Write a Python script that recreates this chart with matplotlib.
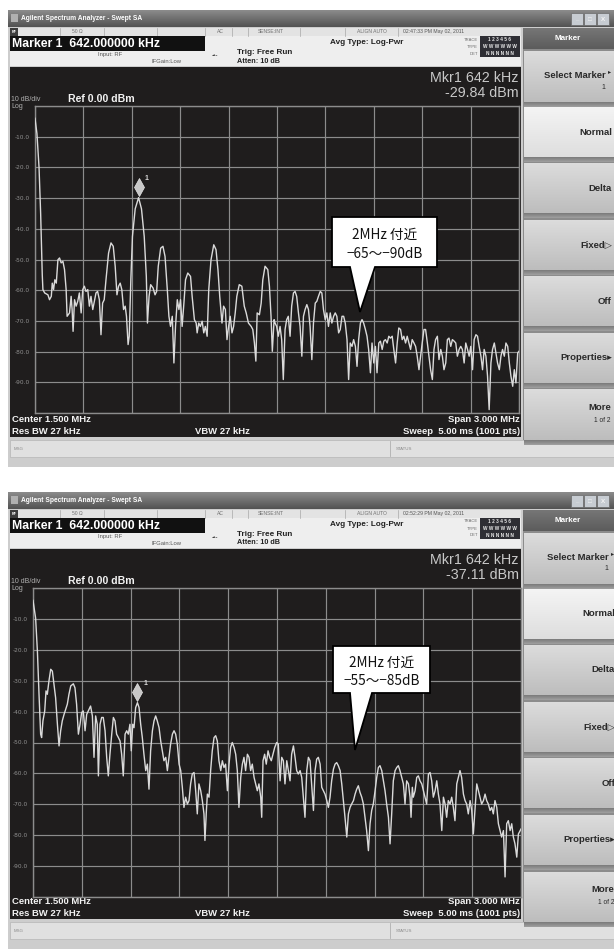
import numpy as np
import matplotlib
matplotlib.use("Agg")
import matplotlib.pyplot as plt
from matplotlib.patches import Rectangle, Polygon
from matplotlib import transforms, colors

W, H, DPI = 614, 949, 100

# ---------------- measurement settings ----------------
center_mhz = 1.5
span_mhz = 3.0
ref_dbm = 0.0
db_per_div = 10
rbw_khz = 27
vbw_khz = 27
sweep_ms = 5.00
sweep_pts = 1001
atten_db = 10
marker_khz = 642.0
marker_levels = [-29.84, -37.11]
timestamps = ["02:47:33 PM May 02, 2011", "02:52:29 PM May 02, 2011"]
y_tick_labels = ["-10.0", "-20.0", "-30.0", "-40.0", "-50.0",
                 "-60.0", "-70.0", "-80.0", "-90.0"]
callout_lines = [["2MHz 付近", "−65〜−90dB"], ["2MHz 付近", "−55〜−85dB"]]
softkeys = ["Normal", "Delta", "Fixed\u25b7", "Off", "Properties\u25b8"]

# ---------------- traces: (MHz, dBm) ----------------
top_trace = [
    (0.000, -4.0), (0.012, -9.0), (0.025, -20.0), (0.035, -35.0), (0.045, -55.0),
    (0.049, -59.8), (0.060, -60.9), (0.080, -61.5), (0.090, -63.1), (0.101, -62.0),
    (0.107, -57.7), (0.115, -59.8), (0.123, -56.6), (0.132, -57.7), (0.142, -50.1),
    (0.152, -49.5), (0.162, -51.1), (0.173, -50.6), (0.183, -53.3), (0.193, -59.8),
    (0.199, -68.5), (0.214, -67.4), (0.224, -62.0), (0.230, -66.3), (0.236, -73.4),
    (0.245, -63.1), (0.255, -65.2), (0.265, -63.6), (0.275, -60.9), (0.286, -67.4),
    (0.296, -59.8), (0.306, -58.7), (0.316, -60.4), (0.327, -59.8), (0.337, -65.2),
    (0.347, -62.0), (0.358, -66.3), (0.368, -63.6), (0.378, -60.9), (0.388, -60.4),
    (0.399, -63.1), (0.409, -74.5), (0.419, -64.2), (0.429, -63.1), (0.440, -56.6),
    (0.456, -47.9), (0.471, -44.6), (0.485, -45.7), (0.497, -52.2), (0.508, -61.5),
    (0.518, -58.7), (0.528, -57.7), (0.538, -59.8), (0.549, -66.3), (0.559, -65.2),
    (0.567, -68.5), (0.577, -77.7), (0.584, -75.0), (0.594, -56.6), (0.604, -42.5),
    (0.621, -33.5), (0.642, -29.84), (0.660, -33.5), (0.677, -42.5), (0.690, -55.5),
    (0.697, -70.7), (0.707, -62.0), (0.717, -58.2), (0.732, -59.3), (0.744, -61.5),
    (0.754, -60.4), (0.764, -52.2), (0.779, -46.3), (0.793, -45.7), (0.806, -49.0),
    (0.820, -59.8), (0.830, -68.5), (0.840, -71.8), (0.851, -68.5), (0.861, -83.7),
    (0.871, -71.8), (0.882, -63.1), (0.892, -66.3), (0.902, -63.1), (0.912, -71.8),
    (0.923, -64.2), (0.933, -56.6), (0.947, -54.4), (0.964, -55.5), (0.974, -62.0),
    (0.988, -69.6), (0.999, -70.7), (1.005, -73.9), (1.015, -70.7), (1.025, -71.8),
    (1.036, -70.1), (1.046, -73.9), (1.056, -71.8), (1.067, -75.0), (1.077, -59.8),
    (1.091, -50.1), (1.108, -45.2), (1.122, -46.8), (1.134, -53.3), (1.145, -62.0),
    (1.159, -70.7), (1.169, -65.2), (1.180, -66.3), (1.190, -76.1), (1.200, -71.8),
    (1.210, -68.5), (1.221, -73.9), (1.231, -71.8), (1.241, -67.4), (1.251, -62.0),
    (1.266, -58.2), (1.282, -58.7), (1.297, -65.2), (1.309, -67.4), (1.323, -70.7),
    (1.340, -71.8), (1.350, -72.8), (1.360, -77.2), (1.369, -83.1), (1.377, -67.4),
    (1.391, -68.0), (1.402, -64.2), (1.412, -56.6), (1.426, -52.2), (1.443, -53.3),
    (1.453, -58.7), (1.463, -68.5), (1.471, -79.9), (1.482, -69.6), (1.488, -70.7),
    (1.498, -71.8), (1.508, -75.0), (1.519, -71.8), (1.529, -76.1), (1.539, -89.1),
    (1.550, -72.8), (1.560, -69.6), (1.570, -68.5), (1.581, -75.0), (1.591, -65.2),
    (1.602, -60.9), (1.612, -60.4), (1.622, -62.0), (1.633, -67.4), (1.643, -71.8),
    (1.654, -81.5), (1.664, -68.5), (1.674, -66.3), (1.685, -64.7), (1.695, -66.3),
    (1.705, -71.8), (1.716, -82.6), (1.726, -70.7), (1.737, -64.2), (1.747, -63.6),
    (1.757, -62.0), (1.768, -60.4), (1.778, -60.9), (1.788, -66.3), (1.799, -69.6),
    (1.809, -67.4), (1.819, -71.8), (1.830, -67.4), (1.840, -70.7), (1.851, -68.5),
    (1.861, -67.4), (1.871, -68.5), (1.882, -73.9), (1.892, -72.8), (1.903, -68.5),
    (1.913, -68.5), (1.923, -70.7), (1.934, -76.1), (1.944, -89.1), (1.954, -77.2),
    (1.965, -78.3), (1.975, -76.1), (1.986, -78.3), (1.996, -84.8), (2.006, -76.1),
    (2.017, -70.7), (2.027, -69.6), (2.037, -70.7), (2.048, -72.8), (2.058, -75.0),
    (2.068, -79.3), (2.079, -86.9), (2.089, -77.2), (2.100, -83.7), (2.110, -78.3),
    (2.120, -86.9), (2.131, -77.2), (2.141, -76.6), (2.152, -79.3), (2.162, -76.6),
    (2.172, -76.1), (2.183, -77.2), (2.193, -75.0), (2.203, -75.6), (2.214, -75.0),
    (2.224, -79.3), (2.235, -83.7), (2.245, -77.2), (2.255, -72.3), (2.266, -72.8),
    (2.276, -76.1), (2.286, -75.0), (2.297, -77.2), (2.307, -75.0), (2.318, -77.2),
    (2.328, -79.3), (2.338, -76.1), (2.349, -77.2), (2.359, -78.3), (2.369, -81.5),
    (2.380, -85.9), (2.390, -81.5), (2.400, -77.2), (2.411, -72.8), (2.421, -72.8),
    (2.432, -77.2), (2.442, -81.5), (2.452, -85.9), (2.463, -89.1), (2.473, -79.3),
    (2.483, -76.1), (2.494, -75.0), (2.504, -82.6), (2.515, -79.3), (2.525, -81.5),
    (2.535, -85.9), (2.546, -83.7), (2.556, -76.1), (2.566, -75.6), (2.577, -78.3),
    (2.587, -76.1), (2.598, -76.6), (2.608, -77.2), (2.618, -81.5), (2.629, -79.3),
    (2.639, -78.3), (2.649, -79.3), (2.660, -83.7), (2.670, -77.2), (2.681, -79.3),
    (2.691, -81.5), (2.701, -78.3), (2.712, -85.9), (2.722, -76.1), (2.733, -74.5),
    (2.743, -75.0), (2.753, -78.3), (2.764, -81.5), (2.774, -85.9), (2.784, -79.3),
    (2.795, -81.5), (2.805, -88.0), (2.815, -98.9), (2.826, -83.7), (2.836, -79.3),
    (2.847, -77.2), (2.857, -80.4), (2.867, -83.7), (2.878, -85.9), (2.888, -81.5),
    (2.898, -79.3), (2.909, -81.5), (2.919, -77.2), (2.930, -78.3), (2.940, -83.7),
    (2.950, -88.0), (2.961, -91.3), (2.971, -85.9), (2.981, -90.2), (2.992, -80.4),
    (3.000, -79.9),
]

bottom_trace = [
    (0.000, -4.0), (0.016, -9.7), (0.027, -20.4), (0.037, -34.4), (0.047, -47.3),
    (0.053, -48.4), (0.061, -43.0), (0.072, -39.8), (0.080, -33.3), (0.088, -34.4),
    (0.098, -30.1), (0.109, -26.3), (0.119, -26.9), (0.129, -31.2), (0.139, -35.5),
    (0.150, -44.1), (0.160, -51.1), (0.170, -46.2), (0.180, -43.0), (0.191, -40.9),
    (0.201, -39.2), (0.211, -37.6), (0.221, -34.4), (0.232, -31.7), (0.248, -31.0),
    (0.258, -32.3), (0.268, -37.6), (0.279, -47.3), (0.289, -44.1), (0.299, -40.3),
    (0.309, -39.8), (0.320, -46.2), (0.330, -40.9), (0.340, -39.8), (0.354, -38.2),
    (0.365, -41.4), (0.375, -54.8), (0.385, -41.4), (0.395, -44.1), (0.402, -60.8),
    (0.412, -44.1), (0.422, -41.9), (0.432, -41.9), (0.443, -46.2), (0.453, -54.8),
    (0.463, -60.8), (0.473, -53.8), (0.484, -47.3), (0.494, -41.9), (0.504, -43.0),
    (0.514, -47.3), (0.525, -48.4), (0.535, -49.5), (0.545, -53.8), (0.555, -60.8),
    (0.566, -47.3), (0.576, -46.2), (0.586, -47.3), (0.596, -44.1), (0.604, -52.7),
    (0.613, -44.1), (0.621, -45.2), (0.631, -38.7), (0.642, -37.11), (0.652, -38.7),
    (0.662, -44.1), (0.672, -48.4), (0.682, -53.8), (0.693, -59.1), (0.703, -57.0),
    (0.713, -65.1), (0.723, -52.7), (0.734, -46.2), (0.744, -43.0), (0.754, -41.4),
    (0.764, -43.0), (0.775, -45.2), (0.785, -49.5), (0.795, -52.7), (0.805, -55.9),
    (0.816, -54.8), (0.826, -59.1), (0.836, -54.8), (0.846, -50.5), (0.857, -47.3),
    (0.867, -46.2), (0.877, -47.3), (0.887, -50.5), (0.898, -57.0), (0.908, -59.1),
    (0.918, -64.5), (0.928, -71.0), (0.938, -67.7), (0.949, -69.9), (0.959, -68.8),
    (0.969, -63.4), (0.979, -60.2), (0.990, -59.7), (1.000, -65.6), (1.010, -73.1),
    (1.020, -63.4), (1.031, -65.6), (1.041, -68.8), (1.051, -73.1), (1.057, -81.7),
    (1.066, -72.0), (1.072, -66.7), (1.082, -67.7), (1.092, -59.1), (1.102, -52.7),
    (1.113, -48.4), (1.123, -47.8), (1.133, -49.5), (1.143, -55.9), (1.154, -59.1),
    (1.164, -55.9), (1.174, -58.1), (1.184, -57.0), (1.195, -65.6), (1.205, -57.0),
    (1.215, -51.6), (1.225, -50.0), (1.236, -51.6), (1.246, -53.8), (1.256, -59.1),
    (1.266, -71.0), (1.277, -61.3), (1.287, -57.0), (1.297, -54.8), (1.307, -59.1),
    (1.318, -53.8), (1.328, -54.8), (1.338, -59.1), (1.348, -57.0), (1.359, -61.3),
    (1.369, -63.4), (1.379, -65.6), (1.389, -63.4), (1.400, -67.7), (1.406, -74.2),
    (1.414, -55.9), (1.424, -53.8), (1.434, -57.0), (1.445, -52.7), (1.455, -54.8),
    (1.465, -55.9), (1.475, -53.8), (1.486, -51.6), (1.498, -50.0), (1.508, -50.5),
    (1.519, -62.4), (1.529, -54.8), (1.539, -55.9), (1.549, -63.4), (1.560, -55.9),
    (1.570, -59.1), (1.580, -62.4), (1.590, -53.8), (1.601, -51.1), (1.611, -54.8),
    (1.621, -59.1), (1.631, -60.2), (1.642, -59.1), (1.652, -61.3), (1.662, -67.7),
    (1.672, -74.2), (1.683, -59.1), (1.693, -54.8), (1.703, -55.9), (1.713, -63.4),
    (1.724, -72.0), (1.734, -59.1), (1.744, -55.4), (1.754, -54.8), (1.765, -57.0),
    (1.775, -64.5), (1.785, -65.6), (1.795, -66.7), (1.806, -68.8), (1.816, -71.0),
    (1.826, -67.7), (1.836, -62.4), (1.847, -58.6), (1.857, -57.0), (1.867, -56.5),
    (1.877, -57.5), (1.888, -59.1), (1.898, -63.4), (1.908, -68.8), (1.918, -74.2),
    (1.929, -80.6), (1.939, -73.1), (1.949, -71.0), (1.959, -69.9), (1.970, -68.8),
    (1.980, -66.7), (1.990, -65.1), (2.000, -64.0), (2.010, -66.1), (2.021, -67.7),
    (2.031, -69.9), (2.041, -74.2), (2.051, -78.5), (2.062, -85.0), (2.072, -76.3),
    (2.082, -72.0), (2.092, -69.9), (2.103, -65.6), (2.113, -61.3), (2.123, -58.1),
    (2.133, -57.5), (2.144, -59.1), (2.154, -62.4), (2.164, -65.6), (2.174, -69.9),
    (2.185, -74.2), (2.195, -82.8), (2.205, -73.1), (2.215, -62.4), (2.226, -59.1),
    (2.236, -58.1), (2.246, -57.5), (2.256, -59.1), (2.267, -61.3), (2.277, -63.4),
    (2.287, -69.9), (2.297, -62.4), (2.308, -63.4), (2.318, -67.7), (2.324, -74.2),
    (2.332, -64.5), (2.338, -67.7), (2.349, -65.6), (2.359, -61.3), (2.369, -60.8),
    (2.379, -62.4), (2.390, -63.4), (2.400, -65.6), (2.410, -67.7), (2.420, -69.9),
    (2.431, -60.2), (2.441, -59.7), (2.451, -62.4), (2.461, -67.7), (2.472, -65.6),
    (2.482, -62.4), (2.492, -66.7), (2.502, -69.9), (2.513, -78.5), (2.523, -67.7),
    (2.533, -69.9), (2.543, -74.2), (2.553, -68.8), (2.564, -69.9), (2.574, -67.7),
    (2.584, -71.0), (2.594, -75.3), (2.605, -63.4), (2.615, -61.3), (2.625, -59.1),
    (2.635, -61.3), (2.646, -66.7), (2.656, -68.8), (2.666, -69.9), (2.676, -73.1),
    (2.687, -68.8), (2.697, -72.0), (2.707, -79.6), (2.717, -72.0), (2.728, -63.4),
    (2.738, -65.6), (2.748, -67.7), (2.758, -69.9), (2.769, -68.8), (2.779, -66.7),
    (2.789, -68.8), (2.799, -69.9), (2.810, -72.0), (2.820, -71.0), (2.830, -73.1),
    (2.840, -68.8), (2.851, -71.0), (2.861, -76.3), (2.871, -78.5), (2.881, -80.6),
    (2.892, -78.5), (2.902, -93.5), (2.912, -76.3), (2.922, -75.3), (2.933, -78.5),
    (2.943, -76.3), (2.953, -80.6), (2.963, -82.8), (2.974, -87.1), (2.984, -79.6),
    (3.000, -78.0),
]

UI = ["Liberation Sans", "DejaVu Sans"]
JP = ["Noto Sans CJK JP", "DejaVu Sans"]

fig = plt.figure(figsize=(W / DPI, H / DPI), dpi=DPI)
fig.patch.set_facecolor("white")
base = fig.add_axes([0, 0, 1, 1])
base.axis("off")


def rect(x0, y0, x1, y1, fc, ec="none", lw=0, z=1, ax=None):
    (ax or base).add_patch(Rectangle((x0, y0), x1 - x0, y1 - y0, fc=fc, ec=ec,
                                     lw=lw, zorder=z))


def grad(x0, y0, x1, y1, c_top, c_bot, z=1):
    a = np.array(colors.to_rgb(c_top))
    b = np.array(colors.to_rgb(c_bot))
    t = np.linspace(0, 1, 48)[:, None, None]
    img = a * (1 - t) + b * t
    base.imshow(img, extent=(x0, x1, y1, y0), aspect="auto",
                interpolation="bilinear", zorder=z)


def txt(x, y, s, size, color="black", weight="normal", ha="left", va="center",
        family=UI, z=6, ax=None):
    (ax or base).text(x, y, s, fontsize=size, color=color, fontweight=weight,
                      ha=ha, va=va, family=family, zorder=z)


def spectrum(grid_box, trace, mk_level):
    gx0, gy0, gx1, gy1 = grid_box
    ax = fig.add_axes([gx0 / W, 1 - gy1 / H, (gx1 - gx0) / W, (gy1 - gy0) / H])
    ax.set_facecolor("none")
    f0 = center_mhz - span_mhz / 2
    f1 = center_mhz + span_mhz / 2
    lo = ref_dbm - 10 * db_per_div
    ax.set_xlim(f0, f1)
    ax.set_ylim(lo, ref_dbm)
    ax.set_xticks(np.linspace(f0, f1, 11))
    ax.set_yticks(np.linspace(lo, ref_dbm, 11))
    ax.set_yticklabels([""] + y_tick_labels[::-1] + [""])
    ax.tick_params(length=0, labelbottom=False, labelsize=4.2,
                   labelcolor="#8f8f8f", pad=3.5)
    ax.grid(True, color="#8c8c8c", lw=0.85)
    for sp in ax.spines.values():
        sp.set_color("#8c8c8c")
        sp.set_linewidth(1.0)
    fr = [p[0] for p in trace]
    lv = [p[1] for p in trace]
    ax.plot(fr, lv, color="#dadada", lw=1.0, zorder=3)
    mk = marker_khz / 1000.0
    off = transforms.offset_copy(ax.transData, fig=fig, x=0, y=11, units="dots")
    ax.plot([mk], [mk_level], marker="d", ms=9, color="#c8c8c8",
            mec="#e6e6e6", mew=0.5, transform=off, clip_on=False, zorder=4)
    off2 = transforms.offset_copy(ax.transData, fig=fig, x=8, y=19, units="dots")
    ax.text(mk, mk_level, "1", transform=off2, fontsize=5, color="#d8d8d8",
            family=UI, fontweight="bold", ha="center", va="center")
    return ax


def panel(oy, grid_box, trace, mk_level, stamp, rx):
    # window frame and title bar
    rect(8, 10 + oy, 614, 467 + oy, "#cdcdcd")
    grad(8, 10 + oy, 614, 27 + oy, "#8c8c8c", "#525252", z=2)
    rect(11, 14 + oy, 18, 22 + oy, "#b0b0b0", z=3)
    txt(21, 18.5 + oy, "Agilent Spectrum Analyzer - Swept SA", 4.8, "white", "bold")
    for bx, sym in ((571, "_"), (584, "\u25a1"), (597, "X")):
        rect(bx, 13 + oy, bx + 12, 25 + oy, "#c7ccd2", "#6a6a6a", 0.5, z=3)
        txt(bx + 6, 19 + oy, sym, 4.5, "#f4f4f4", "bold", ha="center")

    # status row
    rect(10, 28 + oy, 521, 35.5 + oy, "#e3e3e3", z=2)
    rect(10, 28 + oy, 18, 35.5 + oy, "#3c3c3c", z=3)
    txt(14, 31.8 + oy, "RF", 2.6, "white", "bold", ha="center")
    for sx in (60, 104, 157, 205, 232, 248, 300, 345, 398):
        base.plot([sx, sx], [28 + oy, 35.5 + oy], color="#a8a8a8", lw=0.5, zorder=3)
    txt(72, 31.8 + oy, "50 \u03a9", 3.6, "#707070")
    txt(217, 31.8 + oy, "AC", 3.6, "#707070")
    txt(258, 31.8 + oy, "SENSE:INT", 3.6, "#707070")
    txt(357, 31.8 + oy, "ALIGN AUTO", 3.6, "#707070")
    txt(403, 31.8 + oy, stamp, 3.7, "#555555")

    # marker readout row
    rect(10, 35.5 + oy, 521, 66 + oy, "#eeeeee", z=2)
    rect(10, 36 + oy, 205, 51 + oy, "#111111", z=3)
    txt(12, 44 + oy, f"Marker 1  {marker_khz:.6f} kHz", 8.8, "white", "bold")
    txt(98, 54.5 + oy, "Input: RF", 4.2, "#555555")
    txt(152, 61.5 + oy, "IFGain:Low", 4.2, "#555555")
    txt(212, 55 + oy, "\u2010\u2022\u2010", 4.5, "#444444", "bold")
    txt(237, 52 + oy, "Trig: Free Run", 5.9, "#222222", "bold")
    txt(237, 61 + oy, f"Atten: {atten_db} dB", 5.2, "#222222", "bold")
    txt(330, 42 + oy, "Avg Type: Log-Pwr", 5.9, "#222222", "bold")
    for k, (lab, row) in enumerate((("TRACE", "1 2 3 4 5 6"),
                                    ("TYPE", "W W W W W W"),
                                    ("DET", "N N N N N N"))):
        yy = 39.5 + 7 * k + oy
        txt(478, yy, lab, 3.0, "#6a6a6a", ha="right")
        rect(480, yy - 3.2, 520, yy + 3.2, "#2e2e34", z=3)
        txt(500, yy, row, 3.4, "#e8e8e8", "bold", ha="center")

    # instrument screen
    rect(10, 67 + oy, 521, 437 + oy, "#1f1d1d", z=2)
    txt(519, 78 + oy, f"Mkr1 {marker_khz:.0f} kHz", 10.3, "#c8c8c8", ha="right")
    txt(519, 93 + oy, f"{mk_level:.2f} dBm", 10.3, "#c8c8c8", ha="right")
    txt(11, 99.5 + oy, f"{db_per_div} dB/div", 5.0, "#b0b0b0")
    txt(11, 106 + oy, "Log", 5.0, "#b0b0b0")
    txt(68, 98.5 + oy, f"Ref {ref_dbm:.2f} dBm", 7.6, "#f2f2f2", "bold")
    txt(12, 420 + oy, f"Center {center_mhz:.3f} MHz", 6.8, "#f2f2f2", "bold")
    txt(520, 420 + oy, f"Span {span_mhz:.3f} MHz", 6.8, "#f2f2f2", "bold", ha="right")
    txt(12, 431.5 + oy, f"Res BW {rbw_khz} kHz", 6.8, "#f2f2f2", "bold")
    txt(195, 431.5 + oy, f"VBW {vbw_khz} kHz", 6.8, "#f2f2f2", "bold")
    txt(520, 431.5 + oy, f"Sweep  {sweep_ms:.2f} ms ({sweep_pts} pts)", 6.8,
        "#f2f2f2", "bold", ha="right")

    # message bar
    rect(10, 440 + oy, 614, 457 + oy, "#e0e0e0", "#b5b5b5", 0.5, z=2)
    base.plot([390, 390], [441 + oy, 456 + oy], color="#b0b0b0", lw=0.6, zorder=3)
    txt(14, 448.5 + oy, "MSG", 3.2, "#8a8a8a")
    txt(396, 448.5 + oy, "STATUS", 3.2, "#8a8a8a")

    # softkey column
    rect(523, 28 + oy, 614, 440 + oy, "#8c8c8c", z=2)
    grad(523, 28 + oy, 614, 49 + oy, "#767676", "#5c5c5c", z=3)
    txt(568, 38.5 + oy, "Marker", 5.8, "white", "bold", ha="center")
    keys = [(51, 102), (107, 157), (163, 213), (220, 270), (276, 326),
            (333, 383), (390, 440)]
    for i, (k0, k1) in enumerate(keys):
        if i == 1:
            grad(524, k0 + oy, 614, k1 + oy, "#f4f4f4", "#dedede", z=3)
        else:
            grad(524, k0 + oy, 614, k1 + oy, "#dcdcdc", "#bdbdbd", z=3)
        grad(524, k1 + oy, 614, k1 + 5 + oy, "#7a7a7a", "#a0a0a0", z=3)
    txt(606 + rx, 75 + oy, "Select Marker", 6.8, "#2a2a2a", "bold", ha="right")
    txt(610 + rx, 72 + oy, "\u25b8", 4.5, "#2a2a2a", ha="center")
    txt(605 + rx, 87 + oy, "1", 5.0, "#2a2a2a", ha="right")
    mids = [132, 188, 245, 301, 358]
    for lab, ym in zip(softkeys, mids):
        txt(612 + rx, ym + oy, lab, 6.8, "#2a2a2a", "bold", ha="right")
    txt(611 + rx, 407 + oy, "More", 6.8, "#2a2a2a", "bold", ha="right")
    txt(611 + rx, 420 + oy, "1 of 2", 4.8, "#2a2a2a", ha="right")


def callout(ax, box, tip, base_x, lines):
    x0, y0, x1, y1 = box
    pts = [(x0, y0), (x1, y0), (x1, y1), (base_x[1], y1), tip, (base_x[0], y1), (x0, y1)]
    ax.add_patch(Polygon(pts, closed=True, fc="white", ec="black", lw=1.3, zorder=10))
    cx = (x0 + x1) / 2
    h = y1 - y0
    txt(cx, y0 + h * 0.35, lines[0], 9.8, "#111111", ha="center", family=JP, z=11, ax=ax)
    txt(cx, y0 + h * 0.74, lines[1], 9.8, "#111111", ha="center", family=JP, z=11, ax=ax)


offsets = [0, 482]
grids = [(35, 106, 519, 413), (33, 588, 521, 897)]
traces = [top_trace, bottom_trace]
shifts = [0, 3]
for oy, g, tr, lvl, st, rx in zip(offsets, grids, traces, marker_levels, timestamps, shifts):
    panel(oy, g, tr, lvl, st, rx)

base.set_xlim(0, W)
base.set_ylim(H, 0)

for g, tr, lvl in zip(grids, traces, marker_levels):
    spectrum(g, tr, lvl)

over = fig.add_axes([0, 0, 1, 1])
over.set_xlim(0, W)
over.set_ylim(H, 0)
over.axis("off")
over.patch.set_alpha(0)
callout(over, (332, 217, 437, 267), (360, 312), (350, 375), callout_lines[0])
callout(over, (333, 646, 430, 693), (355, 750), (350, 372), callout_lines[1])

fig.savefig("out.png", dpi=DPI, facecolor="white")
